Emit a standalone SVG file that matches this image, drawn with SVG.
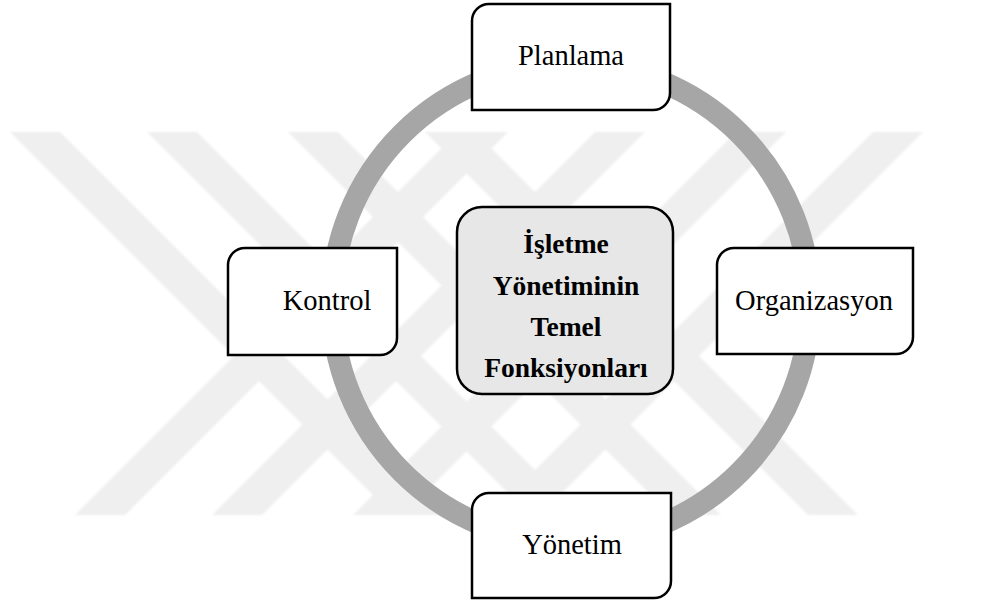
<svg xmlns="http://www.w3.org/2000/svg" width="981" height="606" viewBox="0 0 981 606">
  <defs>
    <filter id="soft" x="-5%" y="-5%" width="110%" height="110%">
      <feGaussianBlur stdDeviation="0.8"/>
    </filter>
    <style>
      .box { fill: #ffffff; stroke: #000000; stroke-width: 2.5; }
      .core { fill: #e7e7e7; stroke: #000000; stroke-width: 2.5; }
      .lbl { font-family: "Liberation Serif", "Times New Roman", serif; font-size: 28.5px; fill: #000000; text-anchor: middle; }
      .title { font-family: "Liberation Serif", "Times New Roman", serif; font-size: 27.5px; font-weight: bold; fill: #000000; text-anchor: middle; }
    </style>
  </defs>
  <rect width="981" height="606" fill="#ffffff"/>

  <!-- light diagonal background bands -->
  <path id="backdrop" filter="url(#soft)" fill="#efefef"
        d="M10,132 H60 L443,515 H393 Z
           M147,132 H197 L580,515 H530 Z
           M288,132 H338 L721,515 H671 Z
           M425,132 H475 L858,515 H808 Z
           M458,132 H508 L125,515 H75 Z
           M595,132 H645 L262,515 H212 Z
           M736,132 H786 L403,515 H353 Z
           M873,132 H923 L540,515 H490 Z"/>

  <!-- cycle ring joining the four functions -->
  <g id="connectors">
    <circle cx="571" cy="303" r="239" fill="none" stroke="#a6a6a6" stroke-width="22"/>
  </g>

  <g id="planlama">
    <path class="box" d="M472,21 A17,17 0 0 1 489,4 H670 V93 A17,17 0 0 1 653,110 H472 Z"/>
    <text class="lbl" x="571" y="65">Planlama</text>
  </g>

  <g id="kontrol">
    <path class="box" d="M228,265 A17,17 0 0 1 245,248 H397 V338 A17,17 0 0 1 380,355 H228 Z"/>
    <text class="lbl" x="327" y="310">Kontrol</text>
  </g>

  <g id="organizasyon">
    <path class="box" d="M717,265 A17,17 0 0 1 734,248 H913 V337 A17,17 0 0 1 896,354 H717 Z"/>
    <text class="lbl" x="814" y="310">Organizasyon</text>
  </g>

  <g id="yonetim">
    <path class="box" d="M472,510 A17,17 0 0 1 489,493 H671 V581 A17,17 0 0 1 654,598 H472 Z"/>
    <text class="lbl" x="572" y="554">Yönetim</text>
  </g>

  <g id="merkez">
    <rect class="core" x="457" y="207" width="216" height="187" rx="25" ry="25"/>
    <text class="title" x="566" y="253">İşletme</text>
    <text class="title" x="566" y="295">Yönetiminin</text>
    <text class="title" x="566" y="336">Temel</text>
    <text class="title" x="566" y="377">Fonksiyonları</text>
  </g>
</svg>
